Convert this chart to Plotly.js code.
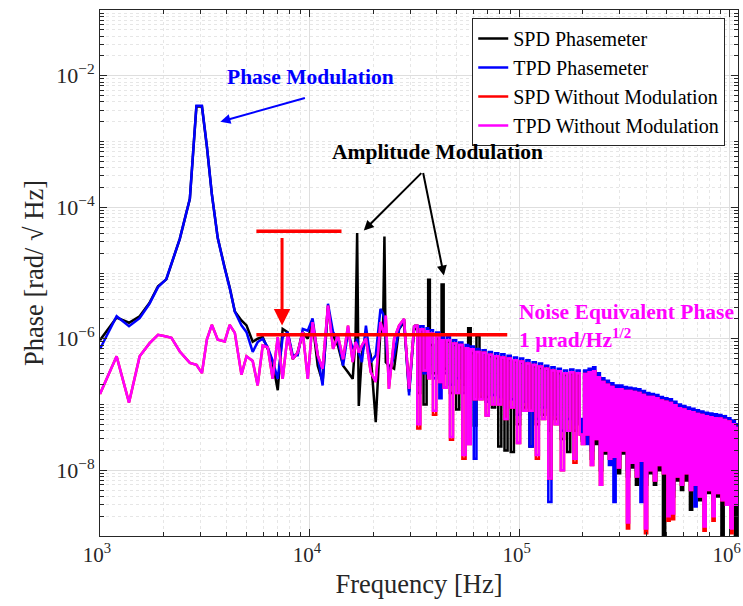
<!DOCTYPE html>
<html><head><meta charset="utf-8">
<script src="https://cdn.plot.ly/plotly-3.0.1.min.js"></script>
<style>html,body{margin:0;padding:0;background:#fff}#chart{width:743px;height:606px}</style>
</head><body><div id="chart"></div>
<script>
// Frequency bins [Hz]
const freq = [1000,1200,1375,1545,1720,1890,2070,2190,2400,2680,2880,3060,3230,3410,3640,3930,4150,4390,4720,4990,5340,
5640,5960,6300,6650,7030,7420,7840,8290,8750,9250,9770,10300,10900,11500,12200,12900,13600,14400,15200,16000,16500,16800,17100,17700,18500,19500,20600,21700,22300,22660,23000,23800,25200,26600,28100,29700,31400,
32500,33600,34800,36000,36620,37300,38600,40000,41400,42420,43400,44900,46500,48100,49800,51500,53300,55200,56800,58400,60400,62200,64300,66500,68800,71200,73700,76300,79000,81700,84600,87500,90600,93800,97000,100400,103900,107600,111300,115200,119300,123400,127800,132200,136800,141600,146600,151700,157000,162500,168200,174100,180200,186500,193000,
197800,202700,207800,213000,218300,223800,229400,235100,241000,247000,253200,259500,266000,272700,279500,286500,293600,301000,308500,316200,324100,332200,340500,349000,357800,366700,375900,385300,394900,404800,414900,425300,435900,446800,458000,469400,481200,493200,505500,518100,531100,544400,558000,571900,586200,600900,615900,631300,647100,663300,679900,696900,714300,732200,750500,769200,788400,808100,828300,849000,870300,892000,914300,937200,960600,984600,1009000,1034000,1060000,1087000,1114000];

// SPD Phasemeter [rad/sqrt(Hz)]
const spdPhasemeter = [9.5e-7,2.1e-6,1.75e-6,2.2e-6,3.5e-6,6.3e-6,8.0e-6,1.4e-5,3.3e-5,1.34e-4,3.4e-3,3.4e-3,8.4e-4,1.6e-4,3.4e-5,1.2e-5,6.0e-6,2.6e-6,1.9e-6,1.6e-6,9.0e-7,
1.0e-6,1.06e-6,7.0e-7,4.4e-7,1.65e-7,1.41e-6,1.26e-6,4.9e-7,6.2e-7,1.26e-6,1.0e-6,1.79e-6,3.9e-7,2.2e-7,2.85e-6,1.12e-6,7.9e-7,3.9e-7,3.1e-7,2.45e-7,1.0e-6,4.07e-5,9.5e-8,6.0e-7,1.0e-6,5.6e-7,5.4e-8,1.41e-6,1.26e-6,3.6e-5,4.4e-7,3.9e-7,3.5e-7,1.41e-6,1.79e-6,1.55e-7,1.41e-6,
1.5e-7,1.3e-6,1.0e-7,1.1e-6,7.9e-6,8.0e-7,3.0e-7,1.0e-6,2.5e-7,6.7e-6,3.5e-7,9.0e-7,1.5e-7,8.0e-7,8.4e-8,7.5e-7,2.0e-7,6.8e-7,1.44e-6,6.0e-7,4.8e-8,1.1e-6,1.3e-7,5.8e-7,1.3e-7,5.4e-7,9.0e-8,5.1e-7,2.3e-8,5.0e-7,2.0e-8,4.7e-7,1.9e-8,4.5e-7,5.0e-8,4.3e-7,9.0e-8,4.0e-7,2.3e-8,3.8e-7,5.0e-8,3.6e-7,7.0e-8,3.4e-7,4.0e-8,3.2e-7,6.0e-8,3.0e-7,3.0e-8,2.8e-7,1.9e-8,2.9e-7,4.0e-8,2.8e-7,5.0e-8,
2.8e-8,2.8e-7,4.0e-8,2.9e-7,1.5e-8,3.0e-7,2.5e-8,2.5e-7,1.0e-8,2.1e-7,1.8e-8,1.9e-7,2.0e-8,1.75e-7,1.5e-8,1.6e-7,9.0e-9,1.6e-7,1.8e-8,1.55e-7,8.0e-9,1.5e-7,1.1e-8,1.45e-7,6.0e-9,1.4e-7,1.2e-8,1.35e-7,6.0e-9,1.25e-7,9.0e-9,1.2e-7,6.0e-9,1.15e-7,1.0e-8,1.1e-7,8.0e-10,1.05e-7,5.0e-9,1.0e-7,4.0e-9,9.2e-8,7.0e-9,8.4e-8,5.0e-9,8.0e-8,7.0e-9,7.5e-8,2.5e-9,7.2e-8,5.0e-9,6.9e-8,3.5e-9,6.6e-8,4.0e-9,6.3e-8,4.5e-9,6.1e-8,3.5e-9,6.0e-8,4.0e-9,5.8e-8,8.0e-10,5.5e-8,3.5e-9,5.2e-8,2.5e-9,4.8e-8,9.0e-10,4.2e-8,4.0e-9];

// TPD Phasemeter
const tpdPhasemeter = [7.0e-7,2.2e-6,1.55e-6,2.05e-6,3.4e-6,6.1e-6,8.1e-6,1.4e-5,3.3e-5,1.34e-4,3.5e-3,3.5e-3,8.5e-4,1.6e-4,3.4e-5,1.17e-5,5.9e-6,2.6e-6,1.6e-6,1.26e-6,6.3e-7,
8.9e-7,1.0e-6,7.4e-7,4.6e-7,2.45e-7,1.06e-6,1.26e-6,5.6e-7,5.6e-7,1.41e-6,1.33e-6,2.04e-6,5.6e-7,1.95e-7,3.4e-6,1.26e-6,1.0e-6,3.9e-7,1.26e-6,7.0e-7,7.9e-7,1.0e-6,6.2e-7,4.4e-7,1.58e-6,4.4e-7,5.6e-7,2.85e-6,2.4e-6,2.0e-6,1.0e-6,2.8e-7,5.6e-7,1.41e-6,2.0e-6,1.37e-7,1.58e-6,
2.0e-7,1.55e-6,3.0e-7,1.45e-6,4.0e-7,1.35e-6,2.5e-7,1.25e-6,1.25e-7,1.1e-6,3.0e-7,1.05e-6,2.0e-7,9.5e-7,2.5e-7,8.8e-7,1.5e-7,8.0e-7,2.2e-7,7.6e-7,1.5e-8,7.0e-7,1.6e-7,6.7e-7,1.1e-7,6.3e-7,1.4e-7,6.0e-7,1.3e-7,5.8e-7,9.0e-8,5.5e-7,1.2e-7,5.2e-7,7.0e-8,5.0e-7,1.1e-7,4.7e-7,2.3e-8,4.4e-7,6.0e-8,4.2e-7,9.0e-8,3.9e-7,3.3e-9,3.7e-7,7.0e-8,3.5e-7,4.0e-8,3.3e-7,6.0e-8,3.4e-7,5.0e-8,3.3e-7,6.0e-8,
3.0e-8,3.3e-7,2.5e-8,3.5e-7,2.0e-8,3.7e-7,4.0e-8,3.0e-7,1.5e-8,2.5e-7,2.5e-8,2.3e-7,1.2e-8,2.1e-7,3.3e-9,1.95e-7,1.5e-8,1.95e-7,2.5e-8,1.85e-7,1.0e-8,1.8e-7,1.6e-8,1.75e-7,1.0e-8,1.7e-7,3.3e-9,1.6e-7,8.0e-9,1.5e-7,1.3e-8,1.45e-7,9.0e-9,1.4e-7,1.5e-8,1.3e-7,1.1e-8,1.25e-7,6.0e-9,1.2e-7,5.0e-9,1.1e-7,1.0e-8,1.0e-7,8.0e-9,9.5e-8,1.1e-8,9.0e-8,7.0e-9,8.6e-8,2.8e-9,8.2e-8,6.0e-9,7.8e-8,5.0e-9,7.5e-8,7.0e-9,7.3e-8,4.0e-9,7.1e-8,6.0e-9,6.9e-8,5.0e-9,6.6e-8,4.5e-9,6.2e-8,3.0e-9,5.7e-8,4.0e-9,5.0e-8,6.0e-9];

// SPD Without Modulation
const spdNoMod = [1.45e-7,5.4e-7,1.07e-7,5.4e-7,8.5e-7,1.15e-6,1.08e-6,1.03e-6,6.4e-7,4.3e-7,4.0e-7,3.0e-7,9.7e-7,1.63e-6,9.7e-7,9.1e-7,1.63e-6,1.23e-6,2.85e-7,5.4e-7,4.6e-7,
1.95e-7,7.9e-7,7.4e-7,2.45e-7,1.06e-6,2.45e-7,1.17e-6,4.9e-7,6.2e-7,1.26e-6,2.45e-7,1.79e-6,5.6e-7,3.5e-7,3.2e-6,7.0e-7,1.12e-6,4.9e-7,1.58e-6,4.4e-7,8.9e-7,7.9e-7,6.2e-7,7.9e-7,1.0e-6,3.1e-7,2.2e-7,1.79e-6,1.26e-6,1.12e-6,2.25e-6,1.73e-7,1.0e-6,1.58e-6,2.0e-6,1.73e-7,1.58e-6,
4.3e-8,1.4e-6,3.3e-7,1.3e-6,2.5e-7,1.2e-6,7.0e-8,1.1e-6,2.2e-7,9.5e-7,1.8e-7,9.5e-7,2.9e-8,8.5e-7,1.5e-7,8.0e-7,1.5e-8,7.2e-7,2.5e-8,6.9e-7,1.2e-7,6.3e-7,1.2e-7,6.1e-7,6.8e-8,5.7e-7,1.0e-7,5.4e-7,1.0e-7,5.2e-7,6.0e-8,5.0e-7,9.0e-8,4.7e-7,2.6e-8,4.5e-7,8.0e-8,4.2e-7,8.0e-8,4.0e-7,1.5e-8,3.8e-7,6.0e-8,3.5e-7,7.5e-9,3.3e-7,5.0e-8,3.2e-7,1.0e-8,3.0e-7,4.0e-8,3.1e-7,1.3e-8,3.0e-7,3.5e-8,
2.5e-8,2.9e-7,3.5e-8,3.1e-7,1.2e-8,3.2e-7,3.0e-8,2.6e-7,6.0e-9,2.2e-7,2.0e-8,2.0e-7,1.5e-8,1.85e-7,1.6e-8,1.7e-7,1.1e-8,1.7e-7,2.0e-8,1.6e-7,1.3e-9,1.6e-7,1.3e-8,1.55e-7,8.0e-9,1.5e-7,1.4e-8,1.4e-7,1.1e-9,1.3e-7,1.0e-8,1.3e-7,7.0e-9,1.25e-7,1.2e-8,1.15e-7,9.0e-9,1.1e-7,1.7e-9,1.05e-7,1.8e-9,9.7e-8,8.0e-9,8.8e-8,6.0e-9,8.4e-8,9.0e-9,7.9e-8,5.0e-9,7.6e-8,6.0e-9,7.2e-8,4.0e-9,6.9e-8,1.2e-9,6.6e-8,5.0e-9,6.4e-8,1.7e-9,6.2e-8,4.5e-9,6.1e-8,3.5e-9,5.8e-8,3.0e-9,5.5e-8,1.1e-9,5.0e-8,3.0e-9,4.4e-8,5.0e-9];

// TPD Without Modulation
const tpdNoMod = [1.45e-7,5.4e-7,1.07e-7,5.4e-7,8.5e-7,1.15e-6,1.08e-6,1.03e-6,6.4e-7,4.3e-7,4.0e-7,3.0e-7,9.7e-7,1.63e-6,9.7e-7,9.1e-7,1.63e-6,1.23e-6,2.85e-7,5.4e-7,4.6e-7,
1.95e-7,7.9e-7,7.4e-7,2.45e-7,1.06e-6,2.45e-7,1.17e-6,4.9e-7,6.2e-7,1.26e-6,2.45e-7,1.79e-6,5.6e-7,3.5e-7,3.2e-6,7.0e-7,1.12e-6,4.9e-7,1.58e-6,4.4e-7,8.9e-7,7.9e-7,6.2e-7,7.9e-7,1.0e-6,3.1e-7,2.2e-7,1.79e-6,1.26e-6,1.12e-6,2.25e-6,1.73e-7,1.0e-6,1.58e-6,2.0e-6,1.73e-7,1.58e-6,
5.0e-8,1.4e-6,3.3e-7,1.3e-6,2.5e-7,1.2e-6,8.0e-8,1.1e-6,2.2e-7,9.5e-7,1.8e-7,9.5e-7,3.2e-8,8.5e-7,1.5e-7,8.0e-7,1.7e-8,7.2e-7,2.5e-8,6.9e-7,1.2e-7,6.3e-7,1.2e-7,6.1e-7,6.8e-8,5.7e-7,1.0e-7,5.4e-7,1.0e-7,5.2e-7,6.0e-8,5.0e-7,9.0e-8,4.7e-7,2.6e-8,4.5e-7,8.0e-8,4.2e-7,8.0e-8,4.0e-7,1.7e-8,3.8e-7,6.0e-8,3.5e-7,7.5e-9,3.3e-7,5.0e-8,3.2e-7,1.0e-8,3.0e-7,4.0e-8,3.1e-7,1.5e-8,3.0e-7,3.5e-8,
2.5e-8,2.9e-7,3.5e-8,3.1e-7,1.2e-8,3.2e-7,3.0e-8,2.6e-7,6.0e-9,2.2e-7,2.0e-8,2.0e-7,1.5e-8,1.85e-7,1.6e-8,1.7e-7,1.1e-8,1.7e-7,2.0e-8,1.6e-7,1.6e-9,1.6e-7,1.3e-8,1.55e-7,8.0e-9,1.5e-7,1.4e-8,1.4e-7,1.3e-9,1.3e-7,1.0e-8,1.3e-7,7.0e-9,1.25e-7,1.2e-8,1.15e-7,9.0e-9,1.1e-7,2.0e-9,1.05e-7,2.2e-9,9.7e-8,8.0e-9,8.8e-8,6.0e-9,8.4e-8,9.0e-9,7.9e-8,5.0e-9,7.6e-8,6.0e-9,7.2e-8,4.0e-9,6.9e-8,1.4e-9,6.6e-8,5.0e-9,6.4e-8,2.0e-9,6.2e-8,4.5e-9,6.1e-8,3.5e-9,5.8e-8,3.0e-9,5.5e-8,1.3e-9,5.0e-8,3.0e-9,4.4e-8,5.0e-9];

const seriesNames = ['SPD Phasemeter','TPD Phasemeter','SPD Without Modulation','TPD Without Modulation'];
const seriesColors = ['#000000','#0000ff','#ff0000','#ff00ff'];

// Reference marker lines (modulated level and 1 urad/sqrt(Hz) level)
const modLevelX = [5560, 14150];
const modLevelY = [4.3e-5, 4.3e-5];
const noiseLevelX = [5560, 87200];
const noiseLevelY = [1.15e-6, 1.15e-6];

const xTickVals = [1e3, 1e4, 1e5, 1e6];
const xTickText = ['10<sup>3</sup>','10<sup>4</sup>','10<sup>5</sup>','10<sup>6</sup>'];
const yTickVals = [1e-8, 1e-6, 1e-4, 1e-2];
const yTickText = ['10<sup>−8</sup>','10<sup>−6</sup>','10<sup>−4</sup>','10<sup>−2</sup>'];

const xMinor = [];
for (let d = 3; d <= 6; d++) for (let m = 2; m <= 9; m++) xMinor.push(m * Math.pow(10, d));
const yMinor = [];
for (let d = -9; d <= -1; d++) {
  if (Math.abs(d) % 2 === 1) yMinor.push(Math.pow(10, d));
  for (let m = 2; m <= 9; m++) yMinor.push(m * Math.pow(10, d));
}

// Dense high-frequency part is rendered with vertical steps so the tightly packed bins read as a band
const denseStart = freq.indexOf(31400);
const allSeries = [spdPhasemeter, tpdPhasemeter, spdNoMod, tpdNoMod];
const traces = [];
allSeries.forEach((ys, i) => {
  traces.push({type: 'scatter', mode: 'lines', x: freq.slice(0, denseStart + 1), y: ys.slice(0, denseStart + 1),
    name: seriesNames[i], legendgroup: 'g' + i, line: {color: seriesColors[i], width: 2.5}, hoverinfo: 'skip'});
  traces.push({type: 'scatter', mode: 'lines', x: freq.slice(denseStart), y: ys.slice(denseStart),
    name: seriesNames[i], legendgroup: 'g' + i, showlegend: false,
    line: {color: seriesColors[i], width: 2.5, shape: 'hv'}, hoverinfo: 'skip'});
});
traces.push({type:'scatter', mode:'lines', x: modLevelX, y: modLevelY, showlegend:false,
  line:{color:'#ff0000', width:3.5}, hoverinfo:'skip'});
traces.push({type:'scatter', mode:'lines', x: noiseLevelX, y: noiseLevelY, showlegend:false,
  line:{color:'#ff0000', width:3.5}, hoverinfo:'skip'});

const serif = 'Liberation Serif, Times New Roman, serif';
const axisColor = '#262626';

const layout = {
  width: 743, height: 606,
  margin: {l: 100, r: 5, t: 10, b: 70},
  paper_bgcolor: '#ffffff', plot_bgcolor: '#ffffff',
  font: {family: serif, color: axisColor},
  showlegend: true,
  legend: {x: 0.98, xanchor: 'right', y: 0.985, yanchor: 'top', bgcolor: '#ffffff',
    bordercolor: axisColor, borderwidth: 1, font: {family: serif, size: 20, color: '#000'}, tracegroupgap: 0},
  xaxis: {
    type: 'log', range: [3, 6.04], tickmode: 'array', tickvals: xTickVals, ticktext: xTickText,
    ticklabeloverflow: 'allow', ticklabelshift: -3,
    ticks: 'inside', ticklen: 7, tickcolor: axisColor, showline: true, linecolor: axisColor, linewidth: 1,
    mirror: 'allticks', showgrid: true, gridcolor: '#dedede', zeroline: false,
    tickfont: {family: serif, size: 21, color: axisColor},
    title: {text: 'Frequency [Hz]', font: {family: serif, size: 26.5, color: axisColor}, standoff: 8},
    minor: {tickmode: 'array', tickvals: xMinor, ticks: 'inside', ticklen: 4, tickcolor: axisColor,
      showgrid: true, gridcolor: '#e6e6e6', griddash: 'dot'}
  },
  yaxis: {
    type: 'log', range: [-9, -1], tickmode: 'array', tickvals: yTickVals, ticktext: yTickText,
    ticks: 'inside', ticklen: 7, tickcolor: axisColor, showline: true, linecolor: axisColor, linewidth: 1,
    mirror: 'allticks', showgrid: true, gridcolor: '#dedede', zeroline: false,
    tickfont: {family: serif, size: 22, color: axisColor},
    title: {text: 'Phase [rad/ √ Hz]', font: {family: serif, size: 26.5, color: axisColor}, standoff: 4},
    minor: {tickmode: 'array', tickvals: yMinor, ticks: 'inside', ticklen: 4, tickcolor: axisColor,
      showgrid: true, gridcolor: '#e6e6e6', griddash: 'dot'}
  },
  annotations: [
    {xref:'x', yref:'y', x: 4.002, y: -2.018, text: '<b>Phase Modulation</b>', showarrow: false,
      xanchor:'center', yanchor:'middle', font:{family: serif, size: 21.5, color:'#0000ff'}},
    {xref:'x', yref:'y', x: 3.5737, y: -2.698, text: '', showarrow: true, ax: 86, ay: -24,
      arrowcolor:'#0000ff', arrowwidth: 2, arrowhead: 2, arrowsize: 1},
    {xref:'x', yref:'y', x: 4.61, y: -3.159, text: '<b>Amplitude Modulation</b>', showarrow: false,
      xanchor:'center', yanchor:'middle', font:{family: serif, size: 21.5, color:'#000000'}},
    {xref:'x', yref:'y', x: 4.257, y: -4.355, text: '', showarrow: true, ax: 59, ay: -59,
      arrowcolor:'#000000', arrowwidth: 2, arrowhead: 2, arrowsize: 1},
    {xref:'x', yref:'y', x: 4.6385, y: -5.039, text: '', showarrow: true, ax: -21, ay: -104,
      arrowcolor:'#000000', arrowwidth: 2, arrowhead: 2, arrowsize: 1},
    {xref:'x', yref:'y', x: 4.9866, y: -5.804, text: '<b>Noise Equivalent Phase<br>1 µrad/Hz<sup>1/2</sup></b>',
      showarrow: false, xanchor:'left', yanchor:'middle', align:'left',
      font:{family: serif, size: 21.5, color:'#ff00ff'}},
    {xref:'x', yref:'y', x: 3.8674, y: -5.80, text: '', showarrow: true, ax: 0, ay: -89,
      arrowcolor:'#ff0000', arrowwidth: 3, arrowhead: 2, arrowsize: 1.1}
  ]
};

Plotly.newPlot('chart', traces, layout, {displayModeBar: false, staticPlot: true});
</script>
</body></html>
